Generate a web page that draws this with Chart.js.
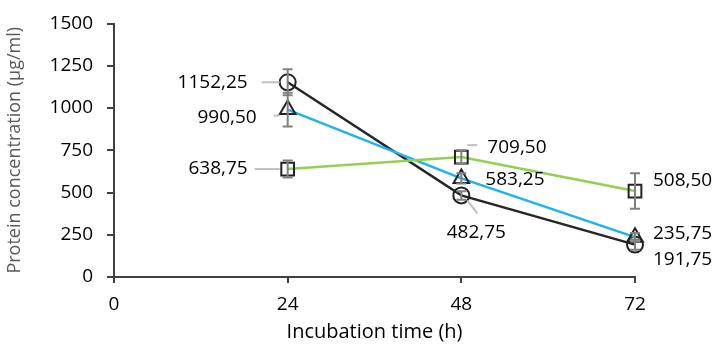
<!DOCTYPE html>
<html>
<head>
<meta charset="utf-8">
<script src="https://cdn.jsdelivr.net/npm/chart.js@4"></script>
<style>
  html, body { margin: 0; padding: 0; background: #fff; }
  #wrap { width: 717px; height: 344px; }
</style>
</head>
<body>
<div id="wrap"><canvas id="chart"></canvas></div>
<script>
// data
const hours = [24, 48, 72];
const circleVals = [1152.25, 482.75, 191.75];
const triangleVals = [990.50, 583.25, 235.75];
const squareVals = [638.75, 709.50, 508.50];
const circleErr = [77, 25, 30];
const triangleErr = [100, 30, 25];
const squareErr = [50, 40, 105];
const xTicks = [0, 24, 48, 72];

// label placement (px offsets from the point), style only
const labelStyle = {
    circle:   [{dx: -40, dy: 0, align: 'right', lead: [-8, 0, -26, 0]},
               {dx: 15, dy: 37, align: 'center', lead: [6, 5, 16, 18]},
               {dx: 18, dy: 15, align: 'left'}],
    triangle: [{dx: -31, dy: 8, align: 'right', lead: [-8, 6, -14, 6]},
               {dx: 24, dy: 1, align: 'left'},
               {dx: 18, dy: -4, align: 'left'}],
    square:   [{dx: -40, dy: 0, align: 'right', lead: [-8, 0, -33, 0]},
               {dx: 26, dy: -10, align: 'left', lead: [6, -12, 16, -12]},
               {dx: 18, dy: -10, align: 'left'}]
};

function fmt(v) {
    return v.toFixed(2).replace('.', ',');
}

function pts(vals) {
    return vals.map((v, i) => ({x: hours[i], y: v}));
}

// draws error bars, leader lines and value labels
const extrasPlugin = {
    id: 'extras',
    afterDatasetsDraw(chart) {
        const ctx = chart.ctx;
        const yScale = chart.scales.y;
        chart.data.datasets.forEach((ds, di) => {
            const meta = chart.getDatasetMeta(di);
            meta.data.forEach((pt, i) => {
                const v = ds.data[i].y;
                const e = ds.errors[i];
                const top = yScale.getPixelForValue(v + e);
                const bot = yScale.getPixelForValue(v - e);
                ctx.save();
                ctx.strokeStyle = '#808080';
                ctx.lineWidth = 2;
                ctx.beginPath();
                ctx.moveTo(pt.x, top); ctx.lineTo(pt.x, bot);
                ctx.moveTo(pt.x - 5, top); ctx.lineTo(pt.x + 5, top);
                ctx.moveTo(pt.x - 5, bot); ctx.lineTo(pt.x + 5, bot);
                ctx.stroke();
                ctx.restore();
            });
        });
        chart.data.datasets.forEach((ds, di) => {
            const meta = chart.getDatasetMeta(di);
            const styles = labelStyle[ds.key];
            meta.data.forEach((pt, i) => {
                const s = styles[i];
                ctx.save();
                if (s.lead) {
                    ctx.strokeStyle = '#c0c0c0';
                    ctx.lineWidth = 2;
                    ctx.beginPath();
                    ctx.moveTo(pt.x + s.lead[0], pt.y + s.lead[1]);
                    ctx.lineTo(pt.x + s.lead[2], pt.y + s.lead[3]);
                    ctx.stroke();
                }
                ctx.fillStyle = '#000';
                ctx.font = '19px "Open Sans"';
                ctx.textAlign = s.align;
                ctx.textBaseline = 'middle';
                ctx.fillText(fmt(ds.data[i].y), pt.x + s.dx, pt.y + s.dy);
                ctx.restore();
            });
        });
    }
};

const ctx = document.getElementById('chart').getContext('2d');
const chart = new Chart(ctx, {
    type: 'line',
    data: {
        datasets: [
            {
                key: 'square', data: pts(squareVals), errors: squareErr,
                borderColor: '#92d050', borderWidth: 2.5,
                pointStyle: 'rect', pointRadius: 9, pointBorderColor: '#222',
                pointBackgroundColor: 'rgba(0,0,0,0)', pointBorderWidth: 2,
                clip: false
            },
            {
                key: 'triangle', data: pts(triangleVals), errors: triangleErr,
                borderColor: '#20b2ec', borderWidth: 2.5,
                pointStyle: 'triangle', pointRadius: 9, pointBorderColor: '#222',
                pointBackgroundColor: 'rgba(0,0,0,0)', pointBorderWidth: 2,
                clip: false
            },
            {
                key: 'circle', data: pts(circleVals), errors: circleErr,
                borderColor: '#262626', borderWidth: 2.5,
                pointStyle: 'circle', pointRadius: 8, pointBorderColor: '#222',
                pointBackgroundColor: 'rgba(0,0,0,0)', pointBorderWidth: 2,
                clip: false
            }
        ]
    },
    options: {
        responsive: true,
        maintainAspectRatio: false,
        animation: false,
        layout: { padding: { top: 22, right: 82, left: 0, bottom: 0 } },
        plugins: { legend: { display: false }, tooltip: { enabled: false } },
        scales: {
            x: {
                type: 'linear', min: 0, max: 72,
                afterBuildTicks: (scale) => { scale.ticks = xTicks.map(v => ({value: v})); },
                afterFit: (scale) => { scale.height = 67; },
                grid: { drawOnChartArea: false, tickLength: 6, color: '#404040', lineWidth: 2 },
                border: { color: '#404040', width: 2 },
                ticks: { color: '#000', font: { family: 'Open Sans', size: 19 }, padding: 10,
                         callback: (v) => String(v) },
                title: { display: true, text: 'Incubation time (h)', color: '#000',
                         font: { family: 'Open Sans', size: 20 }, padding: { top: 6, bottom: 0 } }
            },
            y: {
                min: 0, max: 1500,
                afterFit: (scale) => { scale.width = 114; },
                grid: { drawOnChartArea: false, tickLength: 7, color: '#404040', lineWidth: 2 },
                border: { color: '#404040', width: 2 },
                ticks: { stepSize: 250, color: '#000', font: { family: 'Open Sans', size: 19, lineHeight: 1 },
                         padding: 14, callback: (v) => String(v) },
                title: { display: true, text: 'Protein concentration (µg/ml)', color: '#595959',
                         font: { family: 'Open Sans', size: 18 }, padding: { top: 4, bottom: 0 } }
            }
        }
    },
    plugins: [extrasPlugin]
});
</script>
</body>
</html>
